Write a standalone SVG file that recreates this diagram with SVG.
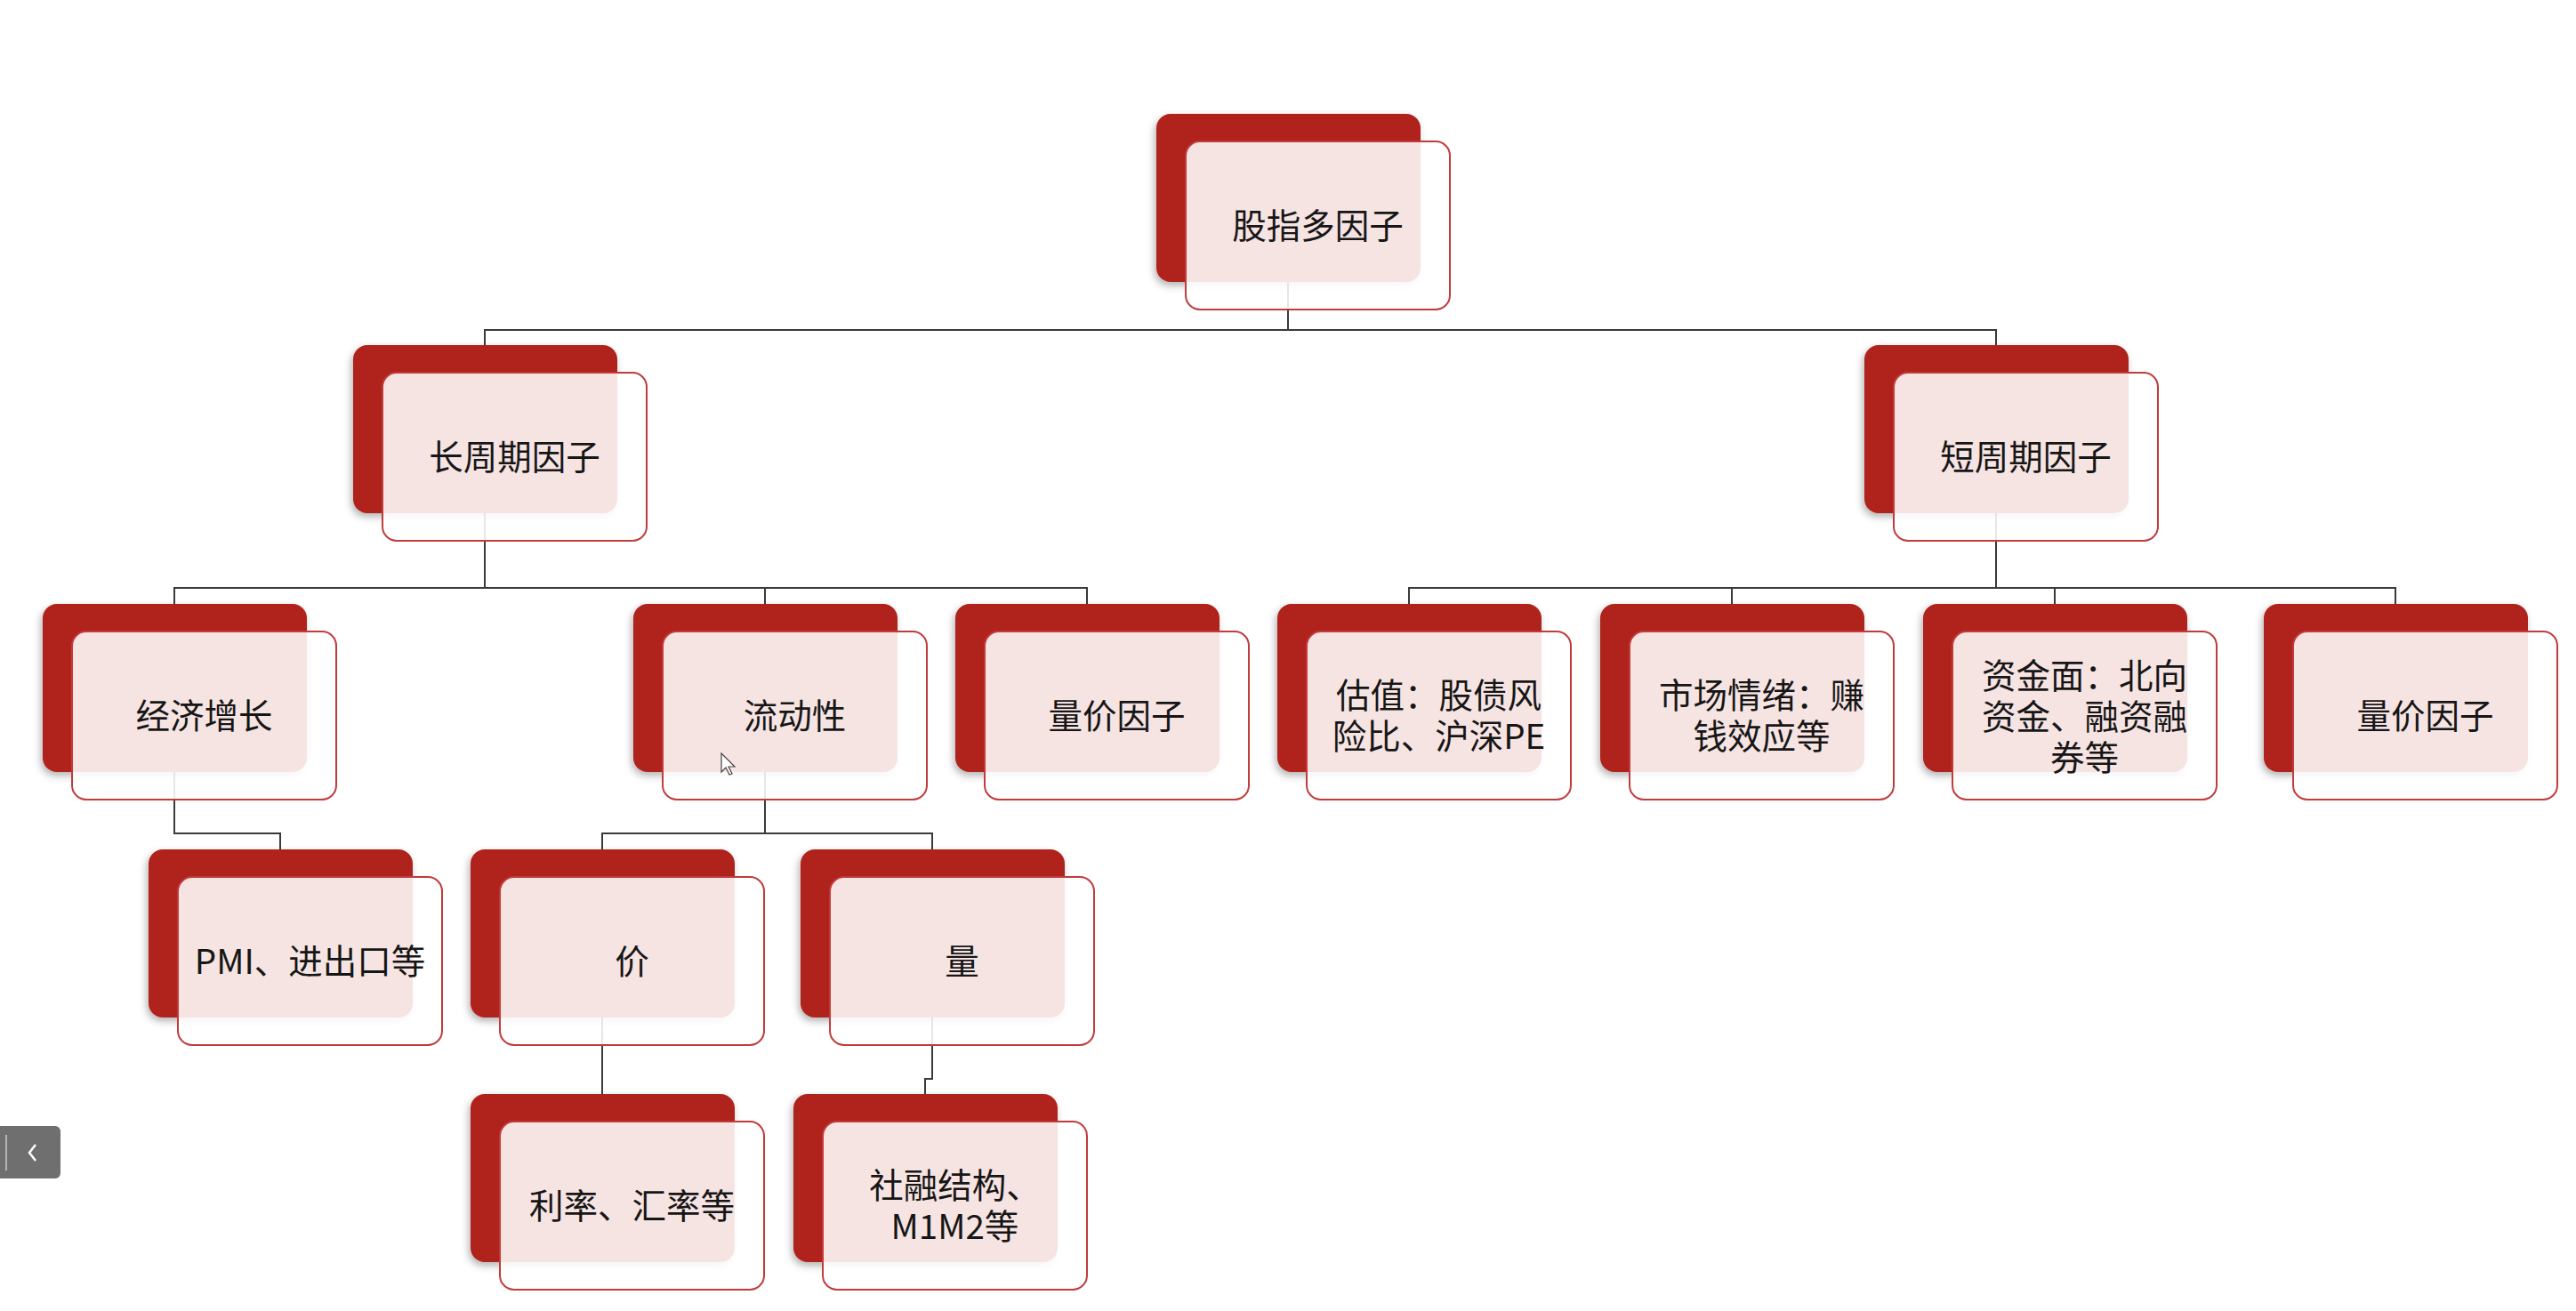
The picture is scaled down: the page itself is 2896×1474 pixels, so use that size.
<svg xmlns="http://www.w3.org/2000/svg" width="2896" height="1474" viewBox="0 0 2896 1474">
<defs>
<style>
.back{fill:#B0231C;filter:url(#sh)}
.card{fill:#ffffff;fill-opacity:0.88;stroke:#C23B3B;stroke-width:2}
.lbl{font-family:"Noto Sans CJK SC","Noto Sans",sans-serif;font-size:38.5px;fill:#161616;text-anchor:middle;dominant-baseline:central}
.conn{fill:none;stroke:#3a3a3a;stroke-width:2}
</style>
<filter id="sh" x="-10%" y="-10%" width="120%" height="125%">
<feDropShadow dx="-2" dy="4" stdDeviation="4" flood-color="#000" flood-opacity="0.3"/>
</filter>
</defs>
<rect width="2896" height="1474" fill="#ffffff"/>
<g id="connectors">
<path class="conn" d="M1448 317 V371 M545 388 V371 H2244 V388"/>
<path class="conn" d="M545 577 V661 M196 679 V661 H1222 V679 M860 661 V679"/>
<path class="conn" d="M2244 577 V661 M1584 679 V661 H2693 V679 M1947 661 V679 M2310 661 V679"/>
<path class="conn" d="M196 868 V937 H315 V955"/>
<path class="conn" d="M860 868 V937 M677 955 V937 H1048 V955"/>
<path class="conn" d="M677 1144 V1230"/>
<path class="conn" d="M1048 1144 V1213 H1040 V1230"/>
</g>
<g id="node-root">
<rect class="back" x="1300" y="128" width="297" height="189" rx="16"/>
<rect class="card" x="1333" y="159" width="297" height="189" rx="16"/>
<text class="lbl" x="1481.5" y="250.5">股指多因子</text>
</g>
<g id="node-long">
<rect class="back" x="397" y="388" width="297" height="189" rx="16"/>
<rect class="card" x="430" y="419" width="297" height="189" rx="16"/>
<text class="lbl" x="578.5" y="510.5">长周期因子</text>
</g>
<g id="node-short">
<rect class="back" x="2096" y="388" width="297" height="189" rx="16"/>
<rect class="card" x="2129" y="419" width="297" height="189" rx="16"/>
<text class="lbl" x="2277.5" y="510.5">短周期因子</text>
</g>
<g id="node-econ">
<rect class="back" x="48" y="679" width="297" height="189" rx="16"/>
<rect class="card" x="81" y="710" width="297" height="189" rx="16"/>
<text class="lbl" x="229.5" y="801.5">经济增长</text>
</g>
<g id="node-liquidity">
<rect class="back" x="712" y="679" width="297" height="189" rx="16"/>
<rect class="card" x="745" y="710" width="297" height="189" rx="16"/>
<text class="lbl" x="893.5" y="801.5">流动性</text>
</g>
<g id="node-volprice-long">
<rect class="back" x="1074" y="679" width="297" height="189" rx="16"/>
<rect class="card" x="1107" y="710" width="297" height="189" rx="16"/>
<text class="lbl" x="1255.5" y="801.5">量价因子</text>
</g>
<g id="node-valuation">
<rect class="back" x="1436" y="679" width="297" height="189" rx="16"/>
<rect class="card" x="1469" y="710" width="297" height="189" rx="16"/>
<text class="lbl" x="1617.5" y="779"><tspan x="1617.5">估值：股债风</tspan><tspan x="1617.5" dy="46">险比、沪深PE</tspan></text>
</g>
<g id="node-sentiment">
<rect class="back" x="1799" y="679" width="297" height="189" rx="16"/>
<rect class="card" x="1832" y="710" width="297" height="189" rx="16"/>
<text class="lbl" x="1980.5" y="779"><tspan x="1980.5">市场情绪：赚</tspan><tspan x="1980.5" dy="46">钱效应等</tspan></text>
</g>
<g id="node-funds">
<rect class="back" x="2162" y="679" width="297" height="189" rx="16"/>
<rect class="card" x="2195" y="710" width="297" height="189" rx="16"/>
<text class="lbl" x="2343.5" y="757"><tspan x="2343.5">资金面：北向</tspan><tspan x="2343.5" dy="46">资金、融资融</tspan><tspan x="2343.5" dy="46">券等</tspan></text>
</g>
<g id="node-volprice-short">
<rect class="back" x="2545" y="679" width="297" height="189" rx="16"/>
<rect class="card" x="2578" y="710" width="297" height="189" rx="16"/>
<text class="lbl" x="2726.5" y="801.5">量价因子</text>
</g>
<g id="node-pmi">
<rect class="back" x="167" y="955" width="297" height="189" rx="16"/>
<rect class="card" x="200" y="986" width="297" height="189" rx="16"/>
<text class="lbl" x="348.5" y="1077.5">PMI、进出口等</text>
</g>
<g id="node-price">
<rect class="back" x="529" y="955" width="297" height="189" rx="16"/>
<rect class="card" x="562" y="986" width="297" height="189" rx="16"/>
<text class="lbl" x="710.5" y="1077.5">价</text>
</g>
<g id="node-volume">
<rect class="back" x="900" y="955" width="297" height="189" rx="16"/>
<rect class="card" x="933" y="986" width="297" height="189" rx="16"/>
<text class="lbl" x="1081.5" y="1077.5">量</text>
</g>
<g id="node-rate">
<rect class="back" x="529" y="1230" width="297" height="189" rx="16"/>
<rect class="card" x="562" y="1261" width="297" height="189" rx="16"/>
<text class="lbl" x="710.5" y="1352.5">利率、汇率等</text>
</g>
<g id="node-social">
<rect class="back" x="892" y="1230" width="297" height="189" rx="16"/>
<rect class="card" x="925" y="1261" width="297" height="189" rx="16"/>
<text class="lbl" x="1073.5" y="1330"><tspan x="1073.5">社融结构、</tspan><tspan x="1073.5" dy="46">M1M2等</tspan></text>
</g>
<g id="ui-back-button">
<rect x="-8" y="1266" width="76" height="59" rx="6" fill="#6f6f6f"/>
<line x1="7" y1="1276" x2="7" y2="1316" stroke="#b5b5b5" stroke-width="2"/>
<polyline points="40,1287 33,1296 40,1305" fill="none" stroke="#ffffff" stroke-width="2.5"/>
</g>
<g id="ui-cursor">
<path d="M811 847 V868 L816 863 L820 871 L823 870 L819 862 L826 862 Z" fill="#ffffff" stroke="#444" stroke-width="1.2"/>
</g>
</svg>
